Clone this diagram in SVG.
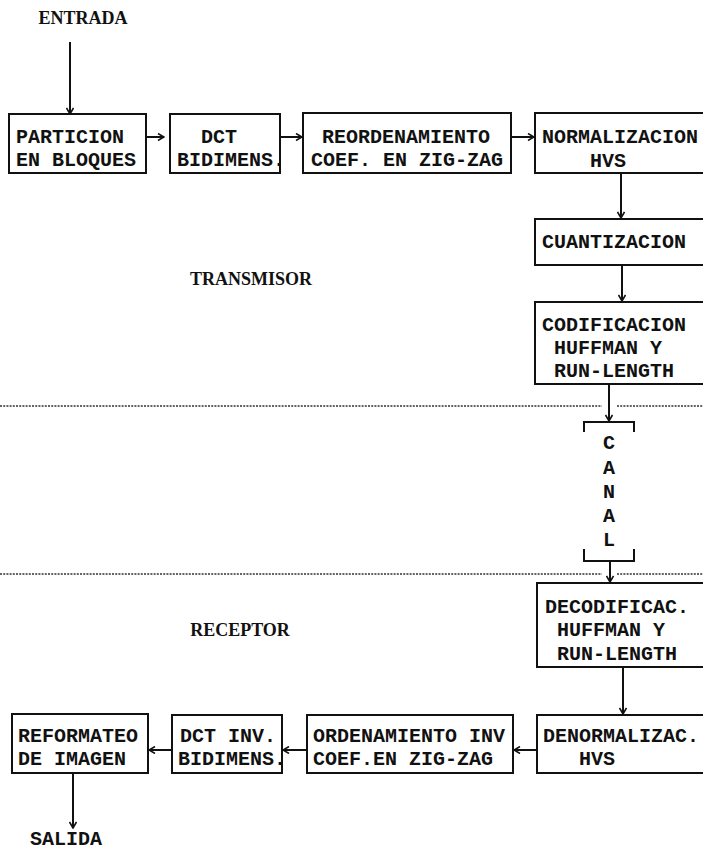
<svg xmlns="http://www.w3.org/2000/svg" width="703" height="851" viewBox="0 0 703 851">
  <style>
    .box { fill: #fff; stroke: #111; stroke-width: 2; }
    .t { font-family: "Liberation Mono", "DejaVu Sans Mono", monospace; font-weight: bold; font-size: 20px; fill: #111; }
    .lbl { font-family: "Liberation Serif", "DejaVu Serif", serif; font-weight: bold; font-size: 18px; fill: #111; }
    .wire { stroke: #111; stroke-width: 2; fill: none; }
    .sep { stroke: #333; stroke-width: 1.6; stroke-dasharray: 2 1.2; fill: none; }
    .bracket { stroke: #111; stroke-width: 2; fill: none; }
  </style>
  <defs>
    <marker id="arr" viewBox="0 0 8 8" refX="7" refY="4" markerWidth="8" markerHeight="8" markerUnits="userSpaceOnUse" orient="auto">
      <path d="M1,0.5 L7,4 L1,7.5" fill="none" stroke="#111" stroke-width="1.6"/>
    </marker>
  </defs>
  <rect width="703" height="851" fill="#fff"/>

  <!-- section labels -->
  <text class="lbl" x="83" y="24" text-anchor="middle">ENTRADA</text>
  <text class="lbl" x="251" y="285" text-anchor="middle">TRANSMISOR</text>
  <text class="lbl" x="240" y="636" text-anchor="middle">RECEPTOR</text>
  <text class="t" x="30" y="845">SALIDA</text>

  <!-- transmitter / receiver separators -->
  <g id="separators">
    <path class="sep" d="M0,406 H602 M617,406 H703"/>
    <path class="sep" d="M0,574 H602 M617,574 H703"/>
  </g>

  <!-- transmitter chain -->
  <g id="particion">
    <rect class="box" x="9" y="114" width="137" height="59"/>
    <text class="t" x="16" y="143">PARTICION</text>
    <text class="t" x="16" y="166">EN BLOQUES</text>
  </g>
  <g id="dct">
    <rect class="box" x="170" y="114" width="110" height="59"/>
    <text class="t" x="201" y="143">DCT</text>
    <text class="t" x="177" y="166">BIDIMENS.</text>
  </g>
  <g id="reordenamiento">
    <rect class="box" x="303" y="113" width="208" height="60"/>
    <text class="t" x="322" y="143">REORDENAMIENTO</text>
    <text class="t" x="311" y="166">COEF. EN ZIG-ZAG</text>
  </g>
  <g id="normalizacion">
    <rect class="box" x="535" y="113" width="170" height="60"/>
    <text class="t" x="542" y="143">NORMALIZACION</text>
    <text class="t" x="590" y="167">HVS</text>
  </g>
  <g id="cuantizacion">
    <rect class="box" x="535" y="219" width="170" height="46"/>
    <text class="t" x="542" y="248">CUANTIZACION</text>
  </g>
  <g id="codificacion">
    <rect class="box" x="535" y="302" width="170" height="82"/>
    <text class="t" x="542" y="331">CODIFICACION</text>
    <text class="t" x="554" y="354">HUFFMAN Y</text>
    <text class="t" x="554" y="377">RUN-LENGTH</text>
  </g>

  <!-- channel -->
  <g id="canal">
    <path class="bracket" d="M584,432 V422 H634 V432"/>
    <path class="bracket" d="M584,549 V561 H634 V549"/>
    <text class="t" x="609" y="449" text-anchor="middle">C</text>
    <text class="t" x="609" y="474" text-anchor="middle">A</text>
    <text class="t" x="609" y="498" text-anchor="middle">N</text>
    <text class="t" x="609" y="522" text-anchor="middle">A</text>
    <text class="t" x="609" y="546" text-anchor="middle">L</text>
  </g>

  <!-- receiver chain -->
  <g id="decodificacion">
    <rect class="box" x="537" y="583" width="170" height="84"/>
    <text class="t" x="545" y="613">DECODIFICAC.</text>
    <text class="t" x="557" y="636">HUFFMAN Y</text>
    <text class="t" x="557" y="660">RUN-LENGTH</text>
  </g>
  <g id="denormalizacion">
    <rect class="box" x="537" y="715" width="170" height="58"/>
    <text class="t" x="543" y="742">DENORMALIZAC.</text>
    <text class="t" x="579" y="765">HVS</text>
  </g>
  <g id="ordenamiento-inv">
    <rect class="box" x="307" y="715" width="206" height="58"/>
    <text class="t" x="313" y="742">ORDENAMIENTO INV</text>
    <text class="t" x="313" y="765">COEF.EN ZIG-ZAG</text>
  </g>
  <g id="dct-inv">
    <rect class="box" x="172" y="715" width="110" height="58"/>
    <text class="t" x="180" y="742">DCT INV.</text>
    <text class="t" x="178" y="765">BIDIMENS.</text>
  </g>
  <g id="reformateo">
    <rect class="box" x="12" y="714" width="136" height="59"/>
    <text class="t" x="18" y="742">REFORMATEO</text>
    <text class="t" x="18" y="765">DE IMAGEN</text>
  </g>

  <!-- connectors -->
  <g id="connectors">
    <line class="wire" x1="70" y1="42" x2="70" y2="114" marker-end="url(#arr)"/>
    <line class="wire" x1="147" y1="137" x2="164" y2="137" marker-end="url(#arr)"/>
    <line class="wire" x1="280" y1="137" x2="302" y2="137" marker-end="url(#arr)"/>
    <line class="wire" x1="511" y1="137" x2="534" y2="137" marker-end="url(#arr)"/>
    <line class="wire" x1="621" y1="173" x2="621" y2="218" marker-end="url(#arr)"/>
    <line class="wire" x1="622" y1="265" x2="622" y2="301" marker-end="url(#arr)"/>
    <line class="wire" x1="609" y1="384" x2="609" y2="421" marker-end="url(#arr)"/>
    <line class="wire" x1="610" y1="561" x2="610" y2="582" marker-end="url(#arr)"/>
    <line class="wire" x1="623" y1="667" x2="623" y2="714" marker-end="url(#arr)"/>
    <line class="wire" x1="537" y1="750" x2="514" y2="750" marker-end="url(#arr)"/>
    <line class="wire" x1="307" y1="750" x2="283" y2="750" marker-end="url(#arr)"/>
    <line class="wire" x1="172" y1="750" x2="149" y2="750" marker-end="url(#arr)"/>
    <line class="wire" x1="73" y1="773" x2="73" y2="828" marker-end="url(#arr)"/>
  </g>
</svg>
